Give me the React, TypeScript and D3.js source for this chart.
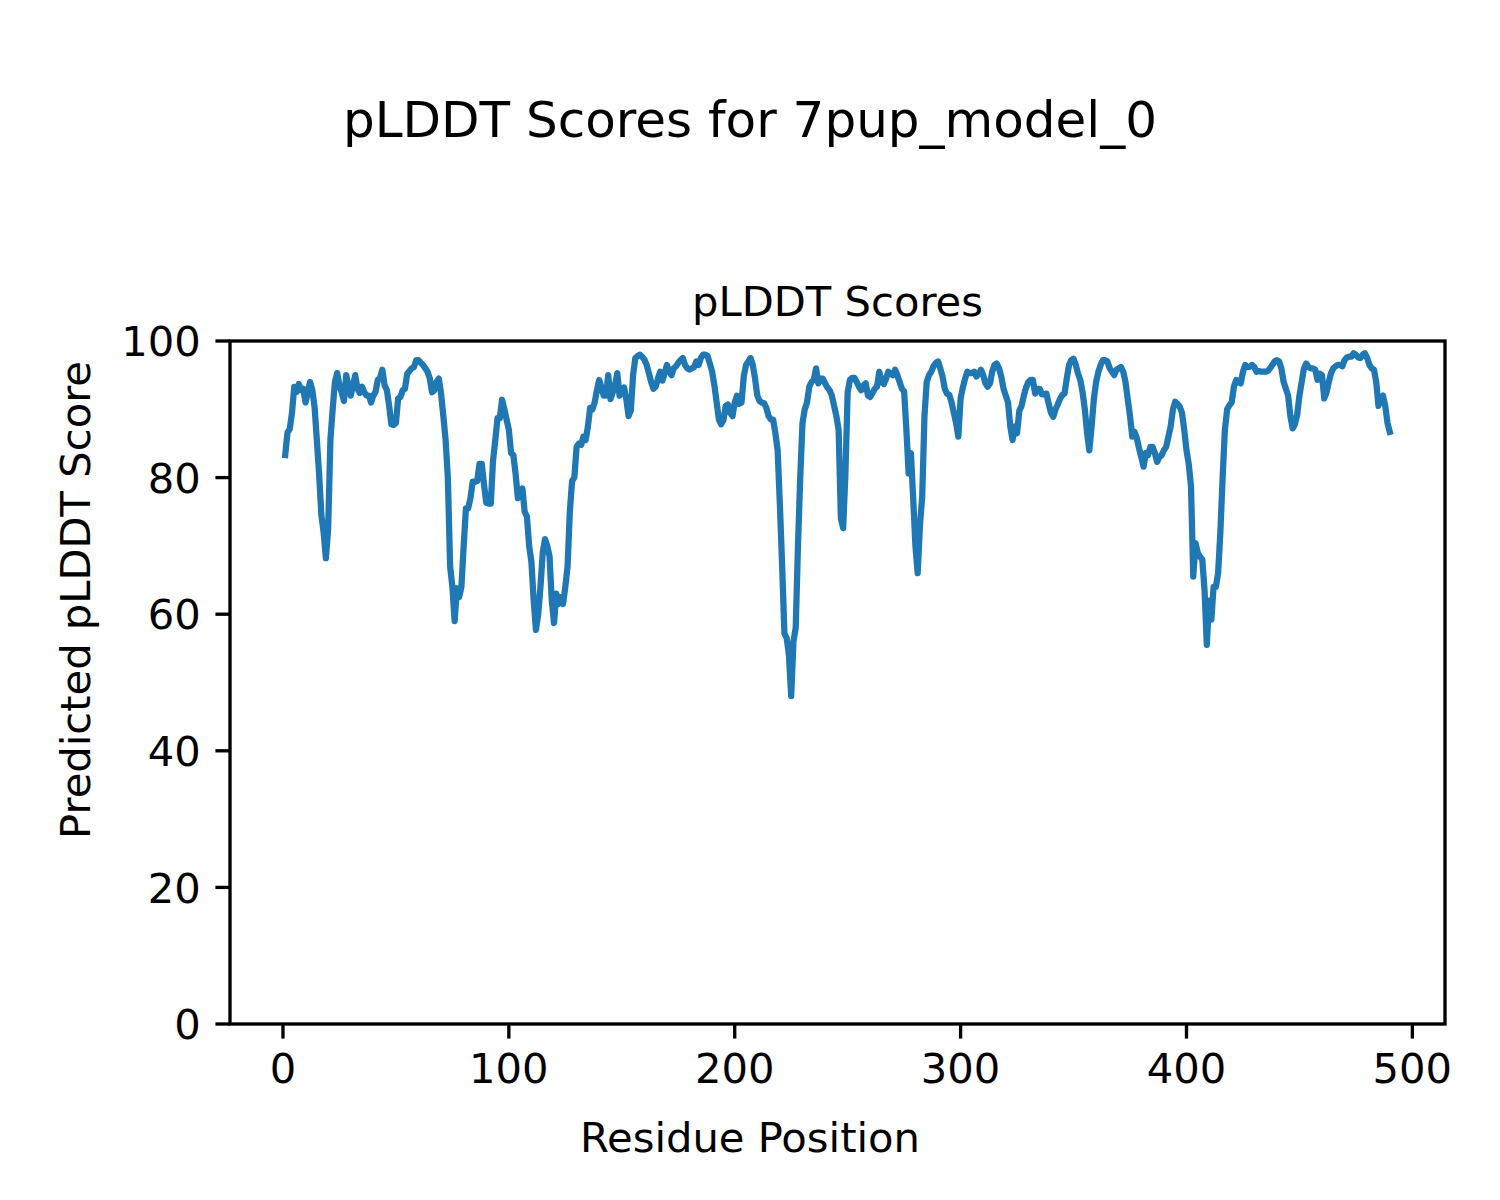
import React from "react";
import * as d3 from "d3";

const title = "pLDDT Scores for 7pup_model_0";
const axesTitle = "pLDDT Scores";
const xLabel = "Residue Position";
const yLabel = "Predicted pLDDT Score";
const xTicks = [0, 100, 200, 300, 400, 500];
const yTicks = [0, 20, 40, 60, 80, 100];
const startResidue = 1;

const plddt = [
  83.3, 86.6, 87.1, 89.5, 93.3, 92.5, 93.7, 92.8, 93, 91, 92.5, 94, 92.8, 90.3, 85.5, 80.5, 74.5, 72, 68.2, 72.5,
  85.5, 90, 94, 95.3, 93.5, 92.5, 91.2, 95, 93.5, 92, 93.5, 95, 93, 92.4, 93.3, 92.5, 92, 92, 91, 92,
  92.6, 94.3, 94.6, 95.8, 93.5, 92.8, 90.5, 87.8, 87.7, 88, 91.6, 91.8, 92.8, 93, 95.2, 95.6, 96, 96.2, 97.2,
  97.2, 96.8, 96.5, 96, 95.5, 94.5, 92.5, 92.8, 94, 94.5, 92.3, 89, 85.5, 80, 67, 64, 59, 63.8, 62.5, 64,
  70, 75.5, 75.5, 77, 79.4, 79.4, 79.5, 82, 82, 79, 76.3, 76.2, 76.2, 82.5, 85.5, 88.7, 88.7, 91.4, 90, 88.5,
  87, 83.6, 83.3, 80.5, 77, 77.5, 78.4, 75, 74.3, 70, 67.6, 62, 57.7, 60, 64, 69, 71, 70, 68.5, 62,
  58.7, 63,
  61.5, 62.5, 61.5, 64, 67, 75, 79.5, 80, 84.5, 85, 84.8, 86, 85.5, 87.5, 90.2, 90, 91, 92.8, 94.3, 93.2,
  92, 92, 95, 91.5, 92.5, 93.5, 95.3, 92, 92.5, 93.2, 91.5, 89, 89.8, 95, 97.5, 97.8, 98, 97.7, 97.3, 96.5,
  95.3, 94, 93, 93.3, 94.5, 95.5, 94.2, 95.3, 96.5, 95.5, 95, 96, 96.3, 96.8, 97.2, 97.5, 96.5, 96, 95.8, 96,
  96.2, 97,
  96.5, 97.5, 98, 98, 97.8, 96.7, 95.5, 93.5, 91, 88.5, 87.8, 88.4, 90.5, 90.7, 89.5, 89, 91, 92, 90.8, 91,
  94.8, 96.5, 97, 97.5, 96.5, 94.5, 92, 91.2, 91, 90.9, 90.2, 89, 88.5, 88.5, 86.5, 84, 76, 67, 57.2, 56.5,
  54, 48, 56, 58, 70, 80, 88, 90, 91, 93.3, 94, 94.3, 96, 93.8, 94.5, 94.5, 93.8, 93.2, 92.8, 92,
  90.5, 89,
  87, 74, 72.6, 80.5, 92.5, 94.3, 94.6, 94.6, 94, 93.3, 92.8, 93.5, 93.8, 92, 91.8, 92.4, 93, 93.3, 95.5, 94,
  93.7, 94.5, 95.5, 95.2, 95, 95.8, 95, 94, 93, 92.6, 87, 80.6, 83.6, 77, 70, 66, 73, 77.2, 89, 94,
  95, 95.5, 96.3, 96.8, 97, 96, 94.8, 93, 92.3, 92.1, 91, 89.5, 88, 86, 91.6, 93.2, 94.5, 95.5, 95.3, 95.3,
  95.5, 94.8,
  95.2, 95.8, 95, 93.8, 93.3, 93.8, 95.5, 96.5, 96.7, 96, 94.8, 93, 92, 91, 87.5, 85.5, 87.5, 86.5, 89.8, 90.5,
  92, 93.2, 94, 94.3, 94.3, 92.3, 93, 93, 92.2, 92.2, 92.3, 90.8, 89.5, 88.9, 90, 90.7, 91.5, 92.1, 92.3, 94.5,
  96.5, 97.2, 97.4, 96.5, 95.2, 94.3, 92.5, 90, 86.5, 84, 87.5, 91.5, 94, 95.5, 96.5, 97.2, 97.2, 97, 96, 95.5,
  95, 95.8,
  96, 96.2, 95.5, 94, 91.5, 89, 86, 86.7, 85.8, 84.3, 83, 81.6, 83.6, 83.3, 84.5, 84.5, 83.6, 82.3, 83, 83.3,
  84, 84.5, 86, 87.5, 90, 91.1, 90.8, 90.4, 89.5, 87, 84, 82, 78.7, 65.5, 70.4, 69, 68.4, 68, 63.5, 55.5,
  62, 59.2, 64, 64, 66, 72, 80, 87, 90, 90.6, 91, 93.3, 94.3, 94, 93.8, 95.5, 96.5, 96.2, 96.2, 96.5,
  96.2, 95.5,
  95.6, 95.5, 95.5, 95.5, 95.6, 96, 96.5, 97, 97.2, 97, 96, 94, 93, 92, 89, 87.2, 87.8, 89.2, 92, 94,
  96, 96.7, 96.2, 96, 96, 95.8, 94.3, 95.2, 95, 91.6, 92.5, 94, 95.3, 96, 96.3, 96.5, 96.5, 96.3, 97.2, 97.6,
  97.7, 97.7, 98.2, 98, 97.6, 97.5, 98, 98.2, 97.5, 96.5, 96, 95.8, 94, 90.5, 91.5, 92, 90.5, 88, 86.7,
];

const W = 1500;
const H = 1200;
const left = 230;
const right = 1445;
const top = 341;
const bottom = 1024;
const FONT = "DejaVu Sans";
const PT = 300 / 72;

export default function App() {
  const n = plddt.length;
  const xMin = startResidue;
  const xMax = startResidue + n - 1;
  const pad = (xMax - xMin) * 0.05;
  const x = d3.scaleLinear().domain([xMin - pad, xMax + pad]).range([left, right]);
  const y = d3.scaleLinear().domain([0, 100]).range([bottom, top]);
  const line = d3
    .line<number>()
    .x((_, i) => x(startResidue + i))
    .y((d) => y(d));
  const path = line(plddt) || "";
  const tickLen = 3.5 * PT;
  const tickW = 0.8 * PT;
  const fs = 10 * PT;

  return (
    <svg
      width={W}
      height={H}
      viewBox={`0 0 ${W} ${H}`}
      style={{ position: "absolute", left: 0, top: 0, background: "#fff" }}
      fontFamily={FONT}
    >
      <rect x={0} y={0} width={W} height={H} fill="#fff" />
      <text x={750} y={137} textAnchor="middle" fontSize={12 * PT} fill="#000">
        {title}
      </text>
      <text x={(left + right) / 2} y={316} textAnchor="middle" fontSize={fs} fill="#000">
        {axesTitle}
      </text>
      <clipPath id="clip">
        <rect x={left} y={top} width={right - left} height={bottom - top} />
      </clipPath>
      <path
        d={path}
        fill="none"
        stroke="#1f77b4"
        strokeWidth={1.5 * PT}
        strokeLinejoin="round"
        strokeLinecap="square"
        clipPath="url(#clip)"
      />
      {xTicks.map((t) => (
        <g key={"x" + t}>
          <line x1={x(t)} x2={x(t)} y1={bottom} y2={bottom + tickLen} stroke="#000" strokeWidth={tickW} />
          <text x={x(t)} y={1083} textAnchor="middle" fontSize={fs} fill="#000">
            {t}
          </text>
        </g>
      ))}
      {yTicks.map((t) => (
        <g key={"y" + t}>
          <line x1={left - tickLen} x2={left} y1={y(t)} y2={y(t)} stroke="#000" strokeWidth={tickW} />
          <text x={left - 2 * tickLen} y={y(t) + 15.2} textAnchor="end" fontSize={fs} fill="#000">
            {t}
          </text>
        </g>
      ))}
      <rect
        x={left}
        y={top}
        width={right - left}
        height={bottom - top}
        fill="none"
        stroke="#000"
        strokeWidth={tickW}
      />
      <text x={750} y={1152} textAnchor="middle" fontSize={fs} fill="#000">
        {xLabel}
      </text>
      <text
        transform={`translate(90, 600) rotate(-90)`}
        textAnchor="middle"
        fontSize={fs}
        fill="#000"
      >
        {yLabel}
      </text>
    </svg>
  );
}
